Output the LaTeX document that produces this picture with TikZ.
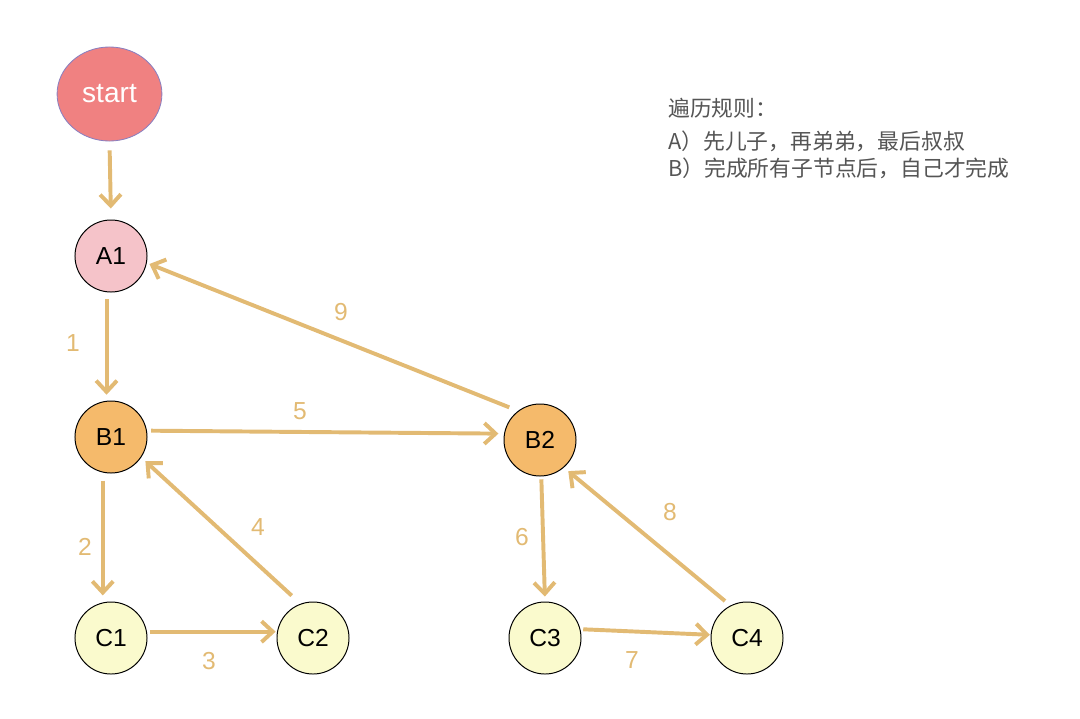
\documentclass[tikz,border=0pt]{standalone}
\usepackage{fontspec}
\setmainfont{Liberation Sans}
\newfontfamily\cjk{Noto Sans CJK SC}
\usetikzlibrary{arrows.meta,shapes.geometric}
\definecolor{flowcol}{HTML}{E2BA73}
\definecolor{startcol}{HTML}{F08181}
\definecolor{startline}{HTML}{8A7FC0}
\definecolor{acol}{HTML}{F5C3C9}
\definecolor{bcol}{HTML}{F5BA6B}
\definecolor{ccol}{HTML}{FAFACD}
\definecolor{rulecol}{HTML}{555555}

\begin{document}
\begin{tikzpicture}
                [
                    x=0.025cm,y=-0.025cm,
                    startnode/.style={ellipse,fill=startcol,draw=startline,line width=0.6pt,inner sep=0,minimum width=2.62cm,minimum height=2.35cm,text=white,font=\fontsize{20}{22}\selectfont},
                    treenode/.style={circle,fill=#1,draw=black,line width=0.7pt,inner sep=0,minimum size=1.8cm,font=\fontsize{17.5}{20}\selectfont},
                    flow/.style={-{Straight Barb[length=0.28cm,width=0.52cm]},line width=2.8pt,draw=flowcol},
                    num/.style={text=flowcol,font=\fontsize{17.5}{20}\selectfont},
                    rule/.style={anchor=west,text=rulecol,inner sep=0,font=\cjk\fontsize{15.5}{18}\selectfont},
                ]
                \useasboundingbox (0,0) rectangle (1080,718);
                \node[startnode] (start) at (109.5,94) {start};
                \node[treenode=acol] (a1) at (111,256) {A1};
                \node[treenode=bcol] (b1) at (111,437) {B1};
                \node[treenode=bcol] (b2) at (540,440) {B2};
                \node[treenode=ccol] (c1) at (111,638) {C1};
                \node[treenode=ccol] (c2) at (313,638) {C2};
                \node[treenode=ccol] (c3) at (545,638) {C3};
                \node[treenode=ccol] (c4) at (747,638) {C4};
                % traversal order
                \draw[flow,shorten <=6.4pt,shorten >=7.8pt] (start.south) -- (a1.north);
                \draw[flow,shorten <=5pt,shorten >=4.3pt] (a1.-97) -- (b1.97);
                \draw[flow,shorten <=5.7pt,shorten >=5pt] (b1.-103) -- (c1.103);
                \draw[flow,shorten <=2pt,shorten >=1pt] (c1.10) -- (c2.170);
                \draw[flow,shorten <=8.5pt,shorten >=4pt] (c2.110) -- (b1.-34);
                \draw[flow,shorten <=3pt,shorten >=4pt] (b1.10) -- (b2.170);
                \draw[flow,shorten <=2pt,shorten >=3.5pt] (b2.-88) -- (c3.90);
                \draw[flow,shorten <=2pt,shorten >=0.5pt] (c3.14) -- (c4.175);
                \draw[flow,shorten <=5pt,shorten >=4pt] (c4.117) -- (b2.-49);
                \draw[flow,shorten <=6.7pt,shorten >=2pt] (b2.127) -- (a1.-11);
                \node[num] (n1) at (73,343) {1};
                \node[num] (n2) at (85,547) {2};
                \node[num] (n3) at (209,661) {3};
                \node[num] (n4) at (258,527) {4};
                \node[num] (n5) at (300,411) {5};
                \node[num] (n6) at (522,537) {6};
                \node[num] (n7) at (632,660) {7};
                \node[num] (n8) at (670,512) {8};
                \node[num] (n9) at (341,312) {9};
                % rules
                \node[rule] (r1) at (668,108) {遍历规则：};
                \node[rule] (r2) at (668,141) {A）先儿子，再弟弟，最后叔叔};
                \node[rule] (r3) at (668,168) {B）完成所有子节点后，自己才完成};
            \end{tikzpicture}
\end{document}
